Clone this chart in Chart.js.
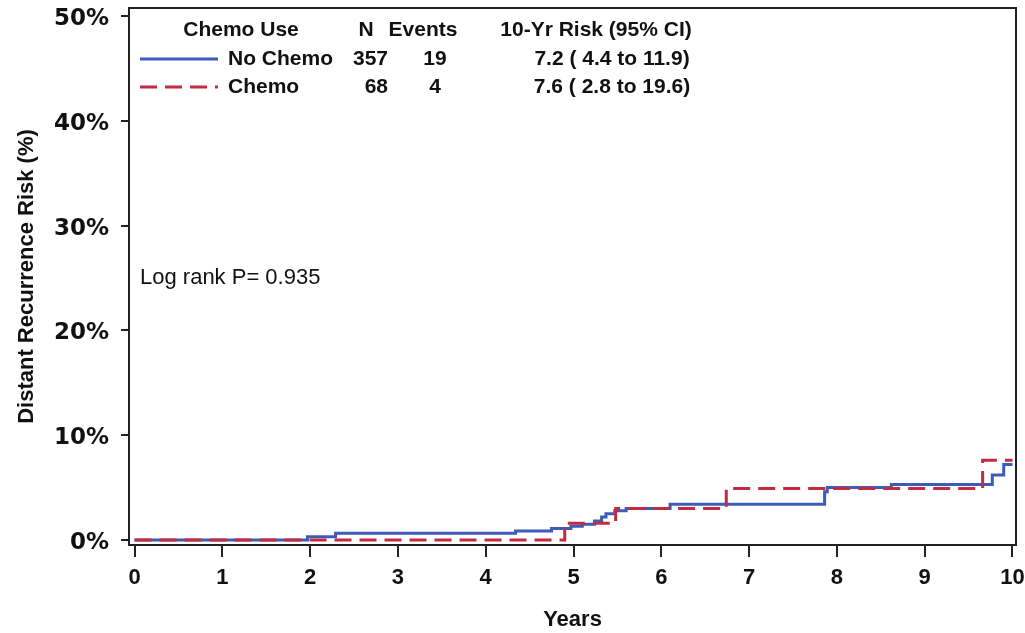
<!DOCTYPE html>
<html lang="en">
<head>
<meta charset="UTF-8">
<title>Distant Recurrence Risk</title>
<script src="https://cdn.jsdelivr.net/npm/chart.js@4.4.1/dist/chart.umd.min.js"></script>
<style>
    html, body { margin: 0; padding: 0; background: #fff; }
    #wrap { width: 1025px; height: 633px; }
</style>
</head>
<body>
<div id="wrap"><canvas id="kmChart" width="1025" height="633"></canvas></div>
<script>
// Данные кривых (годы / накопленный риск, %)
const noChemoYears = [0, 1.97, 2.29, 4.34, 4.75, 4.97, 5.1, 5.24, 5.32, 5.37, 5.47, 5.6, 6.1, 7.86, 7.89, 8.62, 9.77, 9.9, 10];
const noChemoRisk  = [0, 0.3, 0.65, 0.85, 1.1, 1.3, 1.5, 1.8, 2.2, 2.5, 2.8, 3.0, 3.4, 4.6, 5.0, 5.3, 6.2, 7.2, 7.2];
const chemoYears = [0, 4.9, 5.48, 6.74, 9.66, 10];
const chemoRisk  = [0, 1.6, 3.0, 4.9, 7.6, 7.6];

// Подписи осей
const xTicks = [0, 1, 2, 3, 4, 5, 6, 7, 8, 9, 10];
const yTicks = [0, 10, 20, 30, 40, 50];

// Таблица в углу
const groupNames = ['No Chemo', 'Chemo'];
const groupN = [357, 68];
const groupEvents = [19, 4];
const groupRisk = ['7.2 ( 4.4 to 11.9)', '7.6 ( 2.8 to 19.6)'];
const logRankText = 'Log rank P= 0.935';

const BLUE = '#3d5cb8';
const RED = '#c42a40';
const INK = '#222';
const FAMILY = '"Liberation Sans", Arial, sans-serif';
const BOLD = 'bold 21px ' + FAMILY;
const REGULAR = '22px ' + FAMILY;
const RED_DASH = [17, 8];

function toPoints(xs, ys) {
    return xs.map((x, i) => ({ x: x, y: ys[i] }));
}

// Рамка, таблица с группами и p-value
const overlayPlugin = {
    id: 'kmOverlay',
    afterDraw(chart) {
        const ctx = chart.ctx;
        const a = chart.chartArea;
        ctx.save();

        ctx.strokeStyle = INK;
        ctx.lineWidth = 2;
        ctx.strokeRect(a.left, a.top, a.right - a.left, a.bottom - a.top);

        ctx.fillStyle = '#111';
        ctx.font = BOLD;
        ctx.textBaseline = 'middle';

        const x0 = a.left;
        const headY = 30, rowY = [59, 87];

        ctx.textAlign = 'center';
        ctx.fillText('Chemo Use', x0 + 112, headY);
        ctx.fillText('N', x0 + 237, headY);
        ctx.fillText('Events', x0 + 294, headY);
        ctx.fillText('10-Yr Risk (95% CI)', x0 + 467, headY);

        const colors = [BLUE, RED];
        rowY.forEach((y, i) => {
            ctx.strokeStyle = colors[i];
            ctx.lineWidth = 3;
            ctx.setLineDash(i === 1 ? RED_DASH : []);
            ctx.beginPath();
            ctx.moveTo(x0 + 11, y);
            ctx.lineTo(x0 + 89, y);
            ctx.stroke();
            ctx.setLineDash([]);

            ctx.textAlign = 'left';
            ctx.fillText(groupNames[i], x0 + 99, y);
            ctx.textAlign = 'right';
            ctx.fillText(String(groupN[i]), x0 + 259, y);
            ctx.textAlign = 'center';
            ctx.fillText(String(groupEvents[i]), x0 + 306, y);
            ctx.fillText(groupRisk[i], x0 + 483, y);
        });

        ctx.font = REGULAR;
        ctx.textAlign = 'left';
        ctx.fillText(logRankText, x0 + 11, 278);

        ctx.restore();
    }
};

const tickFont = { family: FAMILY, size: 22, weight: 'bold' };
// проценты на оси Y набраны более широким шрифтом
const yTickFont = { family: '"DejaVu Sans", ' + FAMILY, size: 23, weight: 'bold' };

new Chart(document.getElementById('kmChart'), {
    type: 'scatter',
    data: {
        datasets: [
            {
                label: 'No Chemo',
                data: toPoints(noChemoYears, noChemoRisk),
                showLine: true,
                stepped: true,
                borderColor: BLUE,
                borderWidth: 3,
                pointRadius: 0,
                order: 1
            },
            {
                label: 'Chemo',
                data: toPoints(chemoYears, chemoRisk),
                showLine: true,
                stepped: true,
                borderColor: RED,
                borderWidth: 3,
                borderDash: RED_DASH,
                pointRadius: 0,
                order: 0
            }
        ]
    },
    options: {
        responsive: false,
        animation: false,
        layout: { padding: { top: 8, right: 9, left: 0, bottom: 0 } },
        plugins: {
            legend: { display: false },
            tooltip: { enabled: false }
        },
        scales: {
            x: {
                type: 'linear',
                min: -0.063,
                max: 10.04,
                afterBuildTicks: (scale) => { scale.ticks = xTicks.map(v => ({ value: v })); },
                afterFit: (scale) => {
                    scale.height = 88;
                    // подписи по краям не должны сжимать область графика
                    scale.paddingLeft = 0;
                    scale.paddingRight = 0;
                },
                border: { display: false },
                grid: { drawOnChartArea: false, drawTicks: true, tickLength: 12, color: INK, lineWidth: 2 },
                ticks: { color: '#111', font: tickFont, padding: 8, maxRotation: 0 },
                title: {
                    display: true,
                    text: 'Years',
                    color: '#111',
                    font: tickFont,
                    padding: { top: 0, bottom: 0 }
                }
            },
            y: {
                type: 'linear',
                min: -0.48,
                max: 50.76,
                afterBuildTicks: (scale) => { scale.ticks = yTicks.map(v => ({ value: v })); },
                afterFit: (scale) => {
                    scale.width = 129;
                    scale.paddingTop = 0;
                    scale.paddingBottom = 0;
                },
                border: { display: false },
                grid: { drawOnChartArea: false, drawTicks: true, tickLength: 8, color: INK, lineWidth: 2 },
                ticks: {
                    color: '#111',
                    font: yTickFont,
                    padding: 12,
                    labelOffset: 3,
                    callback: (v) => v + '%'
                },
                title: {
                    display: true,
                    text: 'Distant Recurrence Risk (%)',
                    color: '#111',
                    font: tickFont,
                    padding: { top: 14, bottom: 0 }
                }
            }
        }
    },
    plugins: [overlayPlugin]
});
</script>
</body>
</html>
